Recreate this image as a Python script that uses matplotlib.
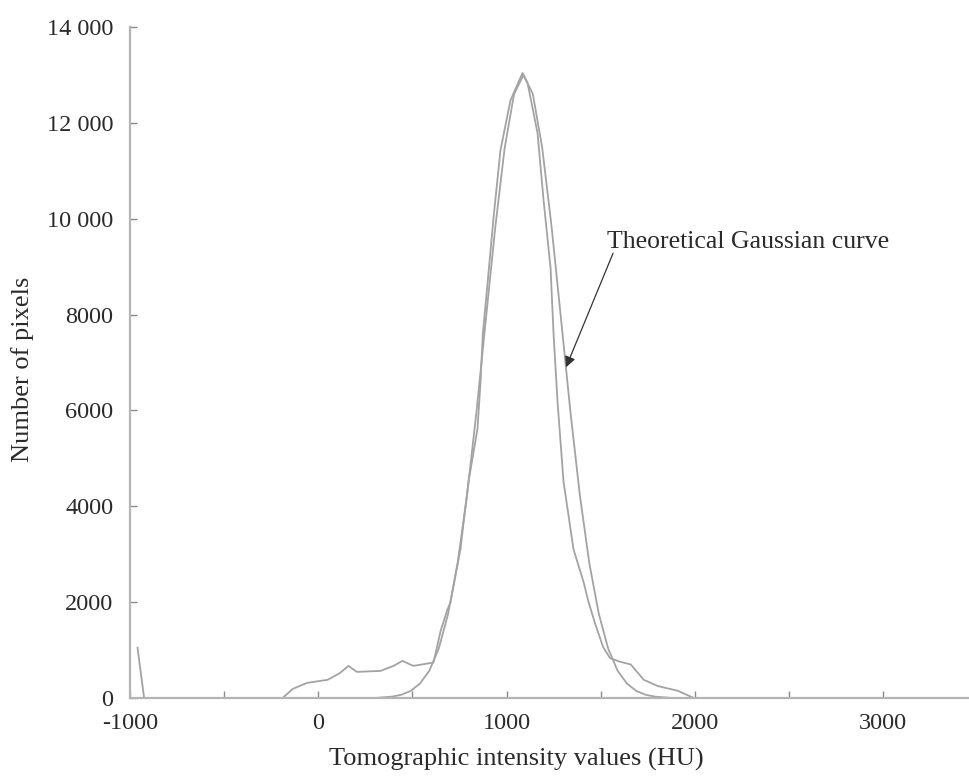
"""Histogram of tomographic intensity values with a fitted Gaussian curve."""

import matplotlib

matplotlib.use("Agg")
import matplotlib.pyplot as plt
from matplotlib.ticker import FixedLocator, FuncFormatter


HIST_HU = [-960, -925, -190, -135, -60, 50, 115, 160, 205, 330, 400, 447, 505, 612,
           650, 686, 702, 755, 798, 846, 862, 874, 899, 931, 968, 1021, 1085, 1112,
           1165, 1197, 1234, 1250, 1271, 1303, 1356, 1410, 1433, 1470, 1513, 1550,
           1600, 1660, 1729, 1803, 1910, 1995, 2810]
HIST_COUNT = [1050, 0, 0, 190, 315, 380, 520, 670, 545, 565, 670, 775, 670, 740,
              1400, 1845, 1990, 3100, 4510, 5620, 6600, 7590, 8640, 10020, 11430, 12470,
              13040, 12830, 11780, 10380, 8970, 7590, 6180, 4510, 3100, 2410, 2040, 1560,
              1065, 830, 760, 700, 380, 250, 150, 0, 0]

# theoretical Gaussian curve
GAUSS_HU = [300, 390, 440, 490, 540, 590, 640, 690, 740, 790, 840, 890, 940, 990, 1040,
            1090, 1140, 1190, 1240, 1290, 1340, 1390, 1440, 1490, 1540, 1590, 1640,
            1690, 1740, 1790, 1880]
GAUSS_COUNT = [0, 28, 66, 145, 300, 570, 1030, 1760, 2810, 4220, 5950, 7890, 9810,
               11470, 12600, 13000, 12600, 11470, 9810, 7890, 5950, 4220, 2810, 1760,
               1030, 570, 300, 145, 66, 28, 0]

X_TICKS = [-1000, 0, 1000, 2000, 3000]
X_MINOR = [-500, 500, 1500, 2500]
Y_TICKS = [0, 2000, 4000, 6000, 8000, 10000, 12000, 14000]
Y_LABELS = ["0", "2000", "4000", "6000", "8000", "10 000", "12 000", "14 000"]

ANNOT_TEXT = "Theoretical Gaussian curve"
ANNOT_TEXT_POS = (1534, 9510)
ANNOT_TAIL = (1566, 9280)
ANNOT_HEAD = (1316, 6900)

LINE_COLOR = "#a3a3a3"
AXIS_COLOR = "#b4b4b4"
TEXT_COLOR = "#2a2a2a"


def main() -> None:
    plt.rcParams["font.family"] = ["Liberation Serif", "DejaVu Serif"]

    fig = plt.figure(figsize=(9.7, 7.78), dpi=100)
    ax = fig.add_axes([130 / 970, 80 / 778, 840 / 970, 671 / 778])

    ax.plot(HIST_HU, HIST_COUNT, color=LINE_COLOR, linewidth=1.3)
    ax.plot(GAUSS_HU, GAUSS_COUNT, color=LINE_COLOR, linewidth=1.3)

    ax.set_xlim(-1000, 3462)
    ax.set_ylim(0, 14000)

    for side in ["top", "right"]:
        ax.spines[side].set_visible(False)
    for side in ["left", "bottom"]:
        ax.spines[side].set_color(AXIS_COLOR)
        ax.spines[side].set_linewidth(1.6)

    ax.xaxis.set_major_locator(FixedLocator(X_TICKS))
    ax.xaxis.set_minor_locator(FixedLocator(X_MINOR))
    ax.yaxis.set_major_locator(FixedLocator(Y_TICKS))
    ax.yaxis.set_major_formatter(FuncFormatter(lambda v, pos: Y_LABELS[Y_TICKS.index(int(round(v)))]))
    ax.xaxis.set_major_formatter(FuncFormatter(lambda v, pos: f"{int(v)}"))

    ax.tick_params(axis="both", which="both", direction="in", color="#8a8a8a",
                   length=5, width=1.0, labelcolor=TEXT_COLOR, labelsize=17.5)
    ax.tick_params(axis="x", pad=11)
    ax.tick_params(axis="y", pad=12)

    ax.set_xlabel("Tomographic intensity values (HU)", fontsize=19, color=TEXT_COLOR)
    ax.xaxis.set_label_coords((516 - 130) / 840, -0.0745)
    ax.set_ylabel("Number of pixels", fontsize=19, color=TEXT_COLOR)
    ax.yaxis.set_label_coords(-0.114, 0.49)

    ax.text(ANNOT_TEXT_POS[0], ANNOT_TEXT_POS[1], ANNOT_TEXT, fontsize=18.5,
            color=TEXT_COLOR, ha="left", va="center")
    ax.annotate("", xy=ANNOT_HEAD, xytext=ANNOT_TAIL,
                arrowprops=dict(arrowstyle="-|>", color="#333333", linewidth=0.9,
                                mutation_scale=16, shrinkA=0, shrinkB=0))

    fig.savefig("out.png", dpi=100)
    plt.close(fig)


if __name__ == "__main__":
    main()
